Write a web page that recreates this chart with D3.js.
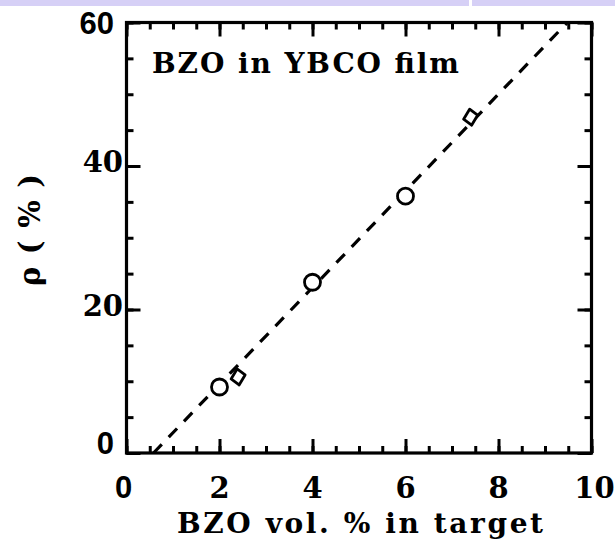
<!DOCTYPE html>
<html>
<head>
<meta charset="utf-8">
<script src="https://cdn.jsdelivr.net/npm/d3@7"></script>
<style>
  body { margin: 0; background: #fff; }
  svg { display: block; }
</style>
</head>
<body>
<div id="chart"></div>
<script>
// measured data (BZO vol.% in target vs rho %)
var circleX = [2, 4, 6];
var circleY = [9.2, 23.8, 35.8];
var diamondX = [2.4, 7.4];
var diamondY = [10.6, 46.8];
var fitX = [0.58, 9.48];
var fitY = [0, 60];
var xTicks = [0, 2, 4, 6, 8, 10];
var yTicks = [0, 20, 40, 60];
var xMinor = d3.range(0, 10.01, 0.5);
var yMinor = d3.range(0, 60.01, 5);

var width = 615;
var height = 546;

var svg = d3.select('#chart')
    .append('svg')
    .attr('width', width)
    .attr('height', height);

// lavender strip at the very top of the picture
svg.append('rect')
    .attr('x', 0).attr('y', 0)
    .attr('width', width).attr('height', 6)
    .attr('fill', '#d6d0f6');
svg.append('rect')
    .attr('x', 469).attr('y', 0)
    .attr('width', 3).attr('height', 6)
    .attr('fill', '#fff');

// plot box (pixel edges of the frame)
var pLeft = 126.5, pRight = 591.5, pTop = 22.5, pBottom = 453;

var x = d3.scaleLinear().domain([0, 10]).range([pLeft, pRight]);
var y = d3.scaleLinear().domain([0, 60]).range([pBottom, pTop]);

var serif = '"DejaVu Serif", "Liberation Serif", serif';
var sans = '"Liberation Sans", Arial, sans-serif';

// inward ticks on all four sides
function tickAxis(axis, values, size, tx, ty) {
    var g = svg.append('g')
        .attr('transform', 'translate(' + tx + ',' + ty + ')')
        .call(axis.tickValues(values).tickSize(size).tickSizeOuter(0).tickFormat(''));
    g.select('.domain').remove();
    g.selectAll('line').attr('stroke', '#000').attr('stroke-width', 3);
    return g;
}
tickAxis(d3.axisBottom(x), xMinor, -7, 0, pBottom);
tickAxis(d3.axisBottom(x), xTicks, -14, 0, pBottom);
tickAxis(d3.axisTop(x), xMinor, -7, 0, pTop);
tickAxis(d3.axisTop(x), xTicks, -14, 0, pTop);
tickAxis(d3.axisLeft(y), yMinor, -7, pLeft, 0);
tickAxis(d3.axisLeft(y), yTicks, -14, pLeft, 0);
tickAxis(d3.axisRight(y), yMinor, -7, pRight, 0);
tickAxis(d3.axisRight(y), yTicks, -14, pRight, 0);

// frame
svg.append('rect')
    .attr('x', pLeft).attr('y', pTop)
    .attr('width', pRight - pLeft).attr('height', pBottom - pTop)
    .attr('fill', 'none')
    .attr('stroke', '#000')
    .attr('stroke-width', 3.2);

// tick labels
svg.selectAll('.xlab')
    .data(xTicks)
    .enter()
    .append('text')
    .attr('class', 'xlab')
    .attr('x', function(d) { return x(d) + (d === 10 ? 3 : 0) - (d === 0 ? 3 : 0); })
    .attr('y', 498)
    .attr('text-anchor', 'middle')
    .style('font-family', function(d) { return d === 0 ? sans : serif; })
    .style('font-weight', 'bold')
    .style('font-size', function(d) { return d === 0 ? '31px' : '29px'; })
    .text(function(d) { return d; });

svg.selectAll('.ylab')
    .data(yTicks)
    .enter()
    .append('text')
    .attr('class', 'ylab')
    .attr('x', function(d) { return (d === 0 || d === 60) ? 114 : 123; })
    .attr('y', function(d) { return d === 0 ? y(d) + 1 : (d === 60 ? y(d) + 11 : y(d) + 6); })
    .attr('text-anchor', 'end')
    .style('font-family', function(d) { return (d === 0 || d === 60) ? sans : serif; })
    .style('font-weight', 'bold')
    .style('font-size', function(d) { return (d === 0 || d === 60) ? '31px' : '29px'; })
    .text(function(d) { return d; });

// axis titles
svg.append('text')
    .attr('x', 177)
    .attr('y', 533)
    .attr('textLength', 366)
    .attr('lengthAdjust', 'spacing')
    .style('font-family', serif)
    .style('font-weight', 'bold')
    .style('font-size', '28px')
    .text('BZO vol. % in target');

svg.append('text')
    .attr('transform', 'translate(40,230)rotate(-90)')
    .attr('text-anchor', 'middle')
    .attr('textLength', 112)
    .attr('lengthAdjust', 'spacing')
    .style('font-family', serif)
    .style('font-weight', 'bold')
    .style('font-size', '29px')
    .text('\u03C1 ( % )');

// annotation
svg.append('text')
    .attr('x', 152)
    .attr('y', 73)
    .attr('textLength', 307)
    .attr('lengthAdjust', 'spacing')
    .style('font-family', serif)
    .style('font-weight', 'bold')
    .style('font-size', '28px')
    .text('BZO in YBCO film');

// dashed fit line
var line = d3.line()
    .x(function(d) { return x(d[0]); })
    .y(function(d) { return y(d[1]); });

svg.append('path')
    .datum(d3.zip(fitX, fitY))
    .attr('d', line)
    .attr('fill', 'none')
    .attr('stroke', '#000')
    .attr('stroke-width', 3.2)
    .attr('stroke-dasharray', '12,10');

// circles
svg.selectAll('.pt')
    .data(d3.zip(circleX, circleY))
    .enter()
    .append('circle')
    .attr('class', 'pt')
    .attr('cx', function(d) { return x(d[0]); })
    .attr('cy', function(d) { return y(d[1]); })
    .attr('r', 8)
    .attr('fill', '#fff')
    .attr('stroke', '#000')
    .attr('stroke-width', 2.8);

// skewed diamonds
svg.selectAll('.dm')
    .data(d3.zip(diamondX, diamondY))
    .enter()
    .append('path')
    .attr('class', 'dm')
    .attr('transform', function(d) { return 'translate(' + x(d[0]) + ',' + y(d[1]) + ')'; })
    .attr('d', 'M-1,-8L7,-2L1,8L-7,2Z')
    .attr('fill', '#fff')
    .attr('stroke', '#000')
    .attr('stroke-width', 2.8)
    .attr('stroke-linejoin', 'round');
</script>
</body>
</html>
